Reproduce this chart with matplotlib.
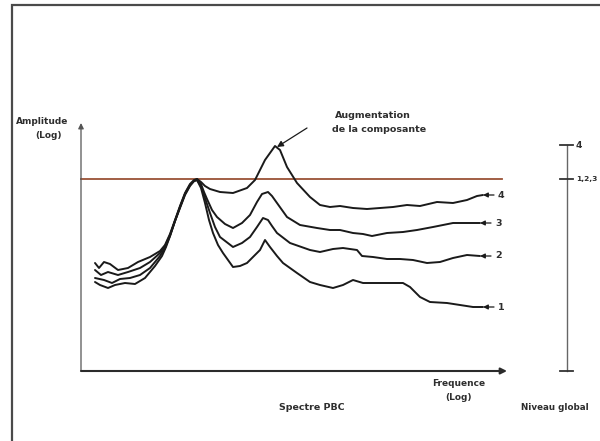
import matplotlib
matplotlib.use("Agg")
import matplotlib.pyplot as plt

# Frequency (log, arbitrary units) and amplitude (log, arbitrary units) of the four spectra
freq_4 = [14, 18, 23, 29, 37, 47, 57, 69, 79, 84, 89, 94, 99, 104, 109, 113, 116, 120, 124, 129,
          139, 152, 166, 174, 184, 194, 199, 206, 216, 229, 239, 249, 259, 272, 286, 299, 312,
          326, 339, 356, 372, 386, 396, 402]
amp_4 = [108, 103, 109, 107, 101, 103, 109, 114, 120, 126, 137, 151, 165, 178, 187, 191, 192, 189,
         185, 182, 179, 178, 183, 191, 211, 225, 221, 204, 188, 174, 166, 164, 165, 163, 162, 163,
         164, 166, 165, 169, 168, 171, 175, 176]

freq_3 = [14, 20, 27, 37, 47, 59, 69, 79, 84, 89, 94, 99, 104, 109, 113, 116, 120, 123, 126, 131,
          136, 144, 152, 161, 169, 176, 181, 187, 191, 196, 206, 219, 236, 249, 259, 272, 282,
          291, 306, 322, 336, 352, 372, 386, 399]
amp_3 = [101, 96, 99, 96, 99, 103, 109, 118, 125, 136, 150, 164, 177, 186, 190, 192, 187, 179,
         172, 161, 154, 147, 143, 148, 156, 169, 177, 179, 175, 168, 154, 146, 143, 141, 141, 138,
         137, 135, 138, 139, 141, 144, 148, 148, 148]

freq_2 = [14, 23, 31, 39, 49, 59, 69, 79, 84, 89, 94, 99, 104, 109, 113, 116, 120, 124, 129, 134,
          139, 152, 161, 169, 176, 182, 187, 191, 196, 209, 229, 239, 252, 262, 276, 281, 292,
          306, 319, 332, 346, 359, 372, 386, 399]
amp_2 = [93, 91, 88, 92, 93, 96, 103, 115, 123, 135, 150, 164, 177, 186, 190, 191, 185, 173,
         158, 144, 134, 124, 128, 134, 144, 153, 151, 145, 138, 128, 121, 119, 122, 123, 121, 115,
         114, 112, 112, 111, 108, 109, 113, 116, 115]

freq_1 = [14, 19, 27, 34, 44, 54, 64, 74, 81, 85, 89, 94, 99, 104, 109, 113, 116, 120, 124, 128,
          132, 137, 142, 152, 159, 166, 173, 179, 184, 189, 196, 202, 216, 229, 239, 252, 262,
          272, 282, 299, 322, 329, 339, 349, 366, 379, 392, 402]
amp_1 = [89, 86, 83, 86, 88, 87, 93, 105, 115, 124, 135, 150, 163, 176, 185, 190, 191, 183, 168,
         151, 138, 126, 118, 104, 105, 108, 115, 121, 131, 124, 115, 108, 98, 89, 86, 83, 86, 91,
         88, 88, 88, 84, 74, 69, 68, 66, 64, 64]

series_freq = [freq_1, freq_2, freq_3, freq_4]
series_amp = [amp_1, amp_2, amp_3, amp_4]
series_labels = ["1", "2", "3", "4"]

# Global level reached by all spectra (1,2,3) and by spectrum 4
level_123 = 192
level_4 = 226
global_ticks = [0, level_123, level_4]
global_labels = ["", "1,2,3", "4"]
global_label_sizes = [0, 5.4, 6.6]

axis_len_f = 426
axis_len_a = 248
ref_line_end = 421
global_axis_f = 486

fig = plt.figure(figsize=(6.0, 4.41), dpi=100)
ax = fig.add_axes([0, 0, 1, 1])
ax.set_xlim(-81, 519)
ax.set_ylim(-70, 371)
ax.axis("off")

ink = "#1a1a1a"
txt = "#2e2e2e"
fs = 6.8
tkw = dict(color=txt, fontweight="bold")

# Page frame
ax.plot([-69, -69, 530], [-80, 366, 366], color="#4a4a4a", lw=1.6, clip_on=False,
        solid_joinstyle="miter")

# Axes with arrowheads
ax.annotate("", xy=(0, axis_len_a), xytext=(0, 0),
            arrowprops=dict(arrowstyle="-|>", color="#555555", lw=0.9, mutation_scale=8,
                            shrinkA=0, shrinkB=0))
ax.annotate("", xy=(axis_len_f, 0), xytext=(0, 0),
            arrowprops=dict(arrowstyle="-|>", color="#2b2b2b", lw=1.5, mutation_scale=9,
                            shrinkA=0, shrinkB=0))

# Global reference level
ax.plot([0, ref_line_end], [level_123, level_123], color="#9a5236", lw=1.3)

# Spectra
for f, a, lab in zip(series_freq, series_amp, series_labels):
    ax.plot(f, a, color=ink, lw=1.4, solid_joinstyle="round", solid_capstyle="round")
    ax.annotate("", xy=(f[-1], a[-1]), xytext=(f[-1] + 11, a[-1]),
                arrowprops=dict(arrowstyle="-|>", color=ink, lw=0.9, mutation_scale=7,
                                shrinkA=0, shrinkB=0))
    ax.text(f[-1] + 15, a[-1], lab, fontsize=fs, va="center", ha="left", **tkw)

# Annotation of the increased component
peak_i = amp_4.index(max(amp_4))
ax.annotate("", xy=(freq_4[peak_i] + 2, amp_4[peak_i] - 1), xytext=(226, 243),
            arrowprops=dict(arrowstyle="-|>", color=ink, lw=0.9, mutation_scale=9,
                            shrinkA=0, shrinkB=0))
ax.text(292, 255, "Augmentation", fontsize=fs, ha="center", va="center", **tkw)
ax.text(298, 242, "de la composante", fontsize=fs, ha="center", va="center", **tkw)

# Global level scale
ax.plot([global_axis_f, global_axis_f], [0, level_4], color="#666666", lw=1.0)
for t, lab, size in zip(global_ticks, global_labels, global_label_sizes):
    ax.plot([global_axis_f - 7, global_axis_f + 6], [t, t], color="#333333", lw=1.3)
    if lab:
        ax.text(global_axis_f + 9, t, lab, fontsize=size, va="center",
                ha="left", **tkw)

# Axis titles
ax.text(-39, 249, "Amplitude", fontsize=fs - 0.3, ha="center", va="center", **tkw)
ax.text(-33, 236, "(Log)", fontsize=fs - 0.3, ha="center", va="center", **tkw)
ax.text(378, -12, "Frequence", fontsize=fs - 0.3, ha="center", va="center", **tkw)
ax.text(378, -26, "(Log)", fontsize=fs - 0.3, ha="center", va="center", **tkw)
ax.text(231, -36, "Spectre PBC", fontsize=fs, ha="center", va="center", **tkw)
ax.text(440, -37, "Niveau global", fontsize=6.3, ha="left", va="center", **tkw)

fig.savefig("out.png", dpi=100)
